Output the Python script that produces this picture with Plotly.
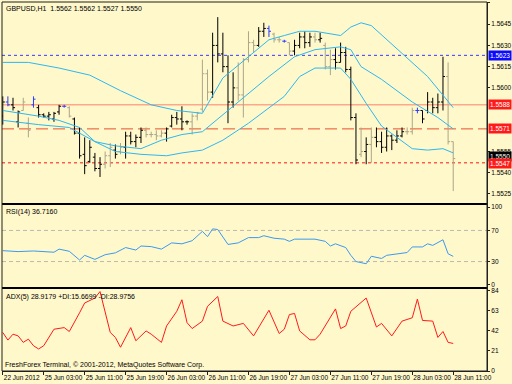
import plotly.graph_objects as go

# ---------------- data ----------------
tick_bars = [0, 8, 16, 24, 32, 40, 48, 56, 64, 72, 80, 88]
tick_labels = ["22 Jun 2012", "25 Jun 03:00", "25 Jun 11:00", "25 Jun 19:00",
               "26 Jun 03:00", "26 Jun 11:00", "26 Jun 19:00", "27 Jun 03:00",
               "27 Jun 11:00", "27 Jun 19:00", "28 Jun 03:00", "28 Jun 11:00"]

bar_open = [1.5580, 1.5590, 1.5588, 1.5576, 1.5584, 1.5575, 1.5588, 1.5586, 1.5581, 1.5580,
            1.5578, 1.5583, 1.5587, 1.5586, 1.5578, 1.5568, 1.5553, 1.5548, 1.5551, 1.5543,
            1.5546, 1.5552, 1.5556, 1.5555, 1.5558, 1.5566, 1.5562, 1.5565, 1.5570, 1.5567,
            1.5567, 1.5566, 1.5568, 1.5573, 1.5579, 1.5578, 1.5576, 1.5576, 1.5580, 1.5585,
            1.5610, 1.5597, 1.5630, 1.5624, 1.5615, 1.5590, 1.5600, 1.5595, 1.5620, 1.5632,
            1.5630, 1.5640, 1.5642, 1.5638, 1.5634, 1.5633, 1.5632, 1.5626, 1.5630, 1.5636,
            1.5632, 1.5636, 1.5634, 1.5630, 1.5615, 1.5620, 1.5618, 1.5625, 1.5613, 1.5579,
            1.5553, 1.5555, 1.5560, 1.5565, 1.5562, 1.5558, 1.5566, 1.5563, 1.5566, 1.5569,
            1.5569, 1.5584, 1.5584, 1.5584, 1.5590, 1.5586, 1.5590, 1.5608, 1.5562]
bar_high = [1.5594, 1.5594, 1.5593, 1.5584, 1.5593, 1.5579, 1.5594, 1.5588, 1.5582, 1.5583,
            1.5583, 1.5588, 1.5588, 1.5587, 1.5579, 1.5572, 1.5565, 1.5563, 1.5554, 1.5551,
            1.5555, 1.5561, 1.5560, 1.5561, 1.5569, 1.5569, 1.5567, 1.5572, 1.5572, 1.5569,
            1.5570, 1.5570, 1.5572, 1.5581, 1.5583, 1.5587, 1.5577, 1.5582, 1.5583, 1.5620,
            1.5613, 1.5639, 1.5650, 1.5639, 1.5623, 1.5611, 1.5618, 1.5621, 1.5640, 1.5634,
            1.5643, 1.5646, 1.5644, 1.5639, 1.5636, 1.5634, 1.5632, 1.5634, 1.5639, 1.5640,
            1.5639, 1.5639, 1.5639, 1.5632, 1.5627, 1.5628, 1.5632, 1.5629, 1.5615, 1.5582,
            1.5572, 1.5565, 1.5572, 1.5572, 1.5569, 1.5572, 1.5567, 1.5570, 1.5572, 1.5572,
            1.5586, 1.5586, 1.5584, 1.5597, 1.5593, 1.5596, 1.5622, 1.5618, 1.5562]
bar_low = [1.5574, 1.5587, 1.5584, 1.5572, 1.5584, 1.5565, 1.5586, 1.5579, 1.5579, 1.5577,
           1.5576, 1.5581, 1.5586, 1.5579, 1.5567, 1.5550, 1.5539, 1.5547, 1.5541, 1.5537,
           1.5543, 1.5544, 1.5550, 1.5553, 1.5550, 1.5560, 1.5558, 1.5561, 1.5565, 1.5565,
           1.5563, 1.5565, 1.5562, 1.5572, 1.5574, 1.5570, 1.5574, 1.5567, 1.5577, 1.5583,
           1.5591, 1.5593, 1.5618, 1.5611, 1.5575, 1.5586, 1.5591, 1.5579, 1.5618, 1.5625,
           1.5629, 1.5636, 1.5636, 1.5632, 1.5632, 1.5632, 1.5623, 1.5623, 1.5628, 1.5628,
           1.5629, 1.5632, 1.5632, 1.5613, 1.5609, 1.5613, 1.5618, 1.5611, 1.5577, 1.5546,
           1.5551, 1.5546, 1.5547, 1.5558, 1.5554, 1.5555, 1.5556, 1.5561, 1.5565, 1.5567,
           1.5567, 1.5582, 1.5575, 1.5582, 1.5582, 1.5582, 1.5584, 1.5560, 1.5527]
bar_close = [1.5590, 1.5588, 1.5586, 1.5583, 1.5590, 1.5570, 1.5592, 1.5581, 1.5580, 1.5581,
             1.5582, 1.5587, 1.5587, 1.5580, 1.5568, 1.5552, 1.5545, 1.5558, 1.5543, 1.5546,
             1.5552, 1.5558, 1.5553, 1.5558, 1.5566, 1.5562, 1.5565, 1.5570, 1.5567, 1.5567,
             1.5566, 1.5568, 1.5571, 1.5579, 1.5578, 1.5576, 1.5576, 1.5580, 1.5582, 1.5610,
             1.5597, 1.5630, 1.5624, 1.5615, 1.5590, 1.5600, 1.5595, 1.5620, 1.5632, 1.5630,
             1.5640, 1.5642, 1.5640, 1.5634, 1.5634, 1.5633, 1.5626, 1.5630, 1.5636, 1.5632,
             1.5636, 1.5634, 1.5635, 1.5615, 1.5620, 1.5618, 1.5625, 1.5613, 1.5579, 1.5549,
             1.5555, 1.5560, 1.5565, 1.5562, 1.5558, 1.5566, 1.5563, 1.5566, 1.5569, 1.5569,
             1.5584, 1.5584, 1.5578, 1.5590, 1.5586, 1.5590, 1.5608, 1.5562, 1.5550]
# k = black bar, g = khaki bar, b = blue bar
bar_colour_class = list("kbkkggbkkk" "kkbgkkkkkk" "ggkgkkkkgg" "ggkkkkkggg" "gkkkkkgggg"
                        "kkbggbgkkk" "kgkggkkkkk" "gkgkkkkkkg" "gbkkkkkgg")

bb_upper_x = [0, 5, 11, 17, 23, 29, 34, 39, 43, 48, 52, 55, 58, 61, 66, 68, 70, 72, 75, 79, 83, 88]
bb_upper = [1.5618, 1.5618, 1.5614, 1.5609, 1.5598, 1.5588, 1.5584, 1.5582, 1.5607, 1.5622, 1.5634,
            1.5637, 1.5640, 1.5640, 1.5637, 1.5643, 1.5646, 1.5644, 1.5634, 1.5621, 1.5608, 1.5586]
bb_mid_x = [0, 7, 11, 15, 18, 22, 27, 31, 35, 39, 44, 48, 52, 57, 61, 66, 68, 70, 74, 80, 85, 88]
bb_mid = [1.5584, 1.5580, 1.5577, 1.5572, 1.5562, 1.5559, 1.5557, 1.5563, 1.5567, 1.5569, 1.5584,
          1.5596, 1.5608, 1.5622, 1.5627, 1.5629, 1.5627, 1.5615, 1.5606, 1.5590, 1.5579, 1.5571]
bb_lower_x = [0, 7, 13, 18, 22, 27, 32, 35, 39, 43, 48, 55, 58, 61, 66, 68, 71, 74, 77, 80, 83, 86, 88]
bb_lower = [1.5577, 1.5574, 1.5572, 1.5562, 1.5555, 1.5553, 1.5552, 1.5554, 1.5556, 1.5563, 1.5575,
            1.5594, 1.5608, 1.5614, 1.5614, 1.5606, 1.5589, 1.5573, 1.5565, 1.5557, 1.5556, 1.5557, 1.5554]

rsi_x = [0, 3, 6, 10, 11, 13, 15, 16, 18, 20, 22, 24, 26, 27, 29, 31, 33, 35, 37, 39, 40, 41, 42,
         44, 46, 48, 50, 51, 53, 55, 56, 57, 61, 63, 64, 65, 67, 68, 69, 71, 72, 74, 75, 77, 79,
         80, 82, 83, 84, 86, 87, 88]
rsi_vals = [44.0, 42.8, 43.6, 42.0, 46.0, 43.2, 32.0, 38.0, 32.8, 38.8, 41.2, 48.0, 44.8, 50.0,
            49.2, 46.0, 54.0, 52.8, 56.8, 68.8, 62.0, 72.0, 71.2, 52.0, 54.0, 60.8, 60.8, 63.2,
            60.0, 58.8, 56.0, 58.8, 58.8, 56.0, 50.0, 52.8, 48.0, 38.0, 30.0, 27.2, 36.8, 34.0,
            38.0, 40.0, 41.6, 48.8, 48.8, 52.8, 50.8, 58.0, 40.0, 36.7]

adx_x = [0, 1, 2, 3, 4, 5, 6, 7, 8, 10, 12, 13, 15, 16, 18, 19, 21, 22, 23, 25, 26, 27, 28, 29,
         31, 32, 34, 35, 36, 37, 39, 40, 42, 43, 45, 47, 49, 52, 54, 55, 56, 57, 58, 60, 61, 62,
         65, 66, 67, 68, 71, 73, 74, 76, 78, 80, 81, 82, 84, 85, 86, 87, 88]
adx_vals = [40.4, 32.4, 38.6, 36.8, 30.0, 33.4, 26.5, 23.1, 26.5, 43.8, 45.5, 41.4, 61.0, 71.3,
            76.5, 83.3, 40.4, 35.2, 24.9, 45.5, 31.7, 36.8, 42.0, 38.6, 30.0, 47.2, 62.6, 74.7,
            50.7, 44.5, 52.3, 67.8, 78.1, 52.3, 47.2, 49.9, 36.8, 63.7, 39.3, 43.8, 59.2, 60.3,
            42.0, 32.7, 32.7, 38.6, 65.1, 44.5, 47.2, 62.6, 76.5, 46.1, 49.9, 36.8, 52.3, 55.8,
            75.4, 53.0, 52.3, 35.2, 41.4, 30.0, 28.9]

level_prices = [1.5623, 1.5588, 1.5571, 1.5547]
level_colors = ["#3838FF", "#FF7F6A", "#E8502E", "#FF1010"]
level_dash = ["dot", "solid", "12px,5px", "dot"]
level_box_colors = ["#0A0AFF", "#FF1A1A", "#FF1A1A", "#FF1A1A"]
# price ticks whose labels are not hidden under the level boxes
price_ticks = [1.5525, 1.5540, 1.5555, 1.5600, 1.5615, 1.5630, 1.5645, 1.5660]
current_price = 1.5550
rsi_levels = [30, 70]
rsi_ticks = [0, 30, 70, 100]
adx_ticks = [0, 21, 42, 63, 84]

# ---------------- styling ----------------
BG = "#FFF8CB"
FONT = "Liberation Sans, Arial, sans-serif"
TICK_SIZE = 6.5
BAR_COLOURS = {"k": "#000000", "g": "#ABA68A", "b": "#2A3AFF"}
BAND = "#2CB8F0"
D_MAIN = [0.4526, 1.0]
D_RSI = [0.2249, 0.4526]
D_ADX = [0.0, 0.2249]

fig = go.Figure()

for cls, col in BAR_COLOURS.items():
    idx = [i for i, c in enumerate(bar_colour_class) if c == cls]
    fig.add_trace(go.Ohlc(
        x=idx,
        open=[bar_open[i] for i in idx], high=[bar_high[i] for i in idx],
        low=[bar_low[i] for i in idx], close=[bar_close[i] for i in idx],
        increasing=dict(line=dict(color=col, width=1)),
        decreasing=dict(line=dict(color=col, width=1)),
        tickwidth=0.4, xaxis="x", yaxis="y", hoverinfo="skip"))

for bx, by in [(bb_upper_x, bb_upper), (bb_mid_x, bb_mid), (bb_lower_x, bb_lower)]:
    fig.add_trace(go.Scatter(x=bx, y=by, mode="lines", line=dict(color=BAND, width=1),
                             xaxis="x", yaxis="y", hoverinfo="skip"))

fig.add_trace(go.Scatter(x=rsi_x, y=rsi_vals, mode="lines",
                         line=dict(color="#3A9AF0", width=1), xaxis="x", yaxis="y2"))
fig.add_trace(go.Scatter(x=adx_x, y=adx_vals, mode="lines",
                         line=dict(color="#FF1A1A", width=1), xaxis="x", yaxis="y3"))

shapes = []
for p, c, d in zip(level_prices, level_colors, level_dash):
    shapes.append(dict(type="line", xref="paper", x0=0, x1=1, yref="y", y0=p, y1=p,
                       line=dict(color=c, width=1, dash=d), layer="below"))
for lv in rsi_levels:
    shapes.append(dict(type="line", xref="paper", x0=0, x1=1, yref="y2", y0=lv, y1=lv,
                       line=dict(color="#B9B9B0", width=1, dash="4px,3px"), layer="below"))
for yy in [D_MAIN[0], D_RSI[0]]:
    shapes.append(dict(type="line", xref="paper", x0=0, x1=1, yref="paper", y0=yy, y1=yy,
                       line=dict(color="#000000", width=2)))
shapes.append(dict(type="rect", xref="paper", x0=0, x1=1, yref="paper", y0=0, y1=1,
                   line=dict(color="#202020", width=1)))

annotations = []
def box(y, text, bg, yshift=0):
    annotations.append(dict(xref="paper", x=1, xanchor="left", xshift=1, yref="y", y=y,
                            yanchor="middle", yshift=yshift, text=text, showarrow=False,
                            bgcolor=bg, font=dict(family=FONT, size=TICK_SIZE, color="white"),
                            borderpad=1))

box(current_price, f"{current_price:.4f}", "#000000", yshift=2)
for p, c in zip(level_prices, level_box_colors):
    box(p, f"{p:.4f}", c, yshift=-1 if p == 1.5547 else 0)

def label(x, y, text, yanchor, xshift=2, yshift=0):
    annotations.append(dict(xref="paper", x=x, xanchor="left", xshift=xshift, yref="paper", y=y,
                            yanchor=yanchor, yshift=yshift, text=text, showarrow=False,
                            font=dict(family=FONT, size=7, color="#000000")))

label(0, 1, "GBPUSD,H1  1.5562 1.5562 1.5527 1.5550", "top", yshift=-1)
label(0, D_RSI[1], "RSI(14) 36.7160", "top", yshift=-2)
label(0, D_ADX[1], "ADX(5) 28.9179 +DI:15.6699 -DI:28.9756", "top", yshift=-3)
label(0, 0, "FreshForex Terminal, © 2001-2012, MetaQuotes Software Corp.", "bottom", xshift=1)

axis_common = dict(showgrid=False, zeroline=False, showline=True, linecolor="#202020",
                   ticks="outside", ticklen=2, tickcolor="#202020", automargin=False,
                   tickfont=dict(family=FONT, size=TICK_SIZE, color="#000000"),
                   side="right", anchor="x")

fig.update_layout(
    width=512, height=384, margin=dict(l=2, r=25, t=2, b=13),
    paper_bgcolor=BG, plot_bgcolor=BG, showlegend=False,
    font=dict(family=FONT, size=7, color="#000000"),
    xaxis=dict(domain=[0, 1], anchor="y3", range=[-0.15, 94.6], tickvals=tick_bars,
               ticktext=tick_labels, ticks="outside", ticklen=3, tickcolor="#202020",
               ticklabelposition="outside right", tickangle=0, automargin=False,
               showgrid=False, zeroline=False,
               showline=True, linecolor="#202020", rangeslider=dict(visible=False),
               tickfont=dict(family=FONT, size=TICK_SIZE, color="#000000")),
    yaxis=dict(domain=D_MAIN, range=[1.55179, 1.56607], tickvals=price_ticks,
               tickformat=".4f", **axis_common),
    yaxis2=dict(domain=D_RSI, range=[-4, 104], tickvals=rsi_ticks, **axis_common),
    yaxis3=dict(domain=D_ADX, range=[0, 87], tickvals=adx_ticks, **axis_common),
    shapes=shapes, annotations=annotations,
)

fig.write_html("out.html", config={"displayModeBar": False},
               post_script="document.body.style.margin='0px';"
                           "document.body.style.background='" + BG + "';")
